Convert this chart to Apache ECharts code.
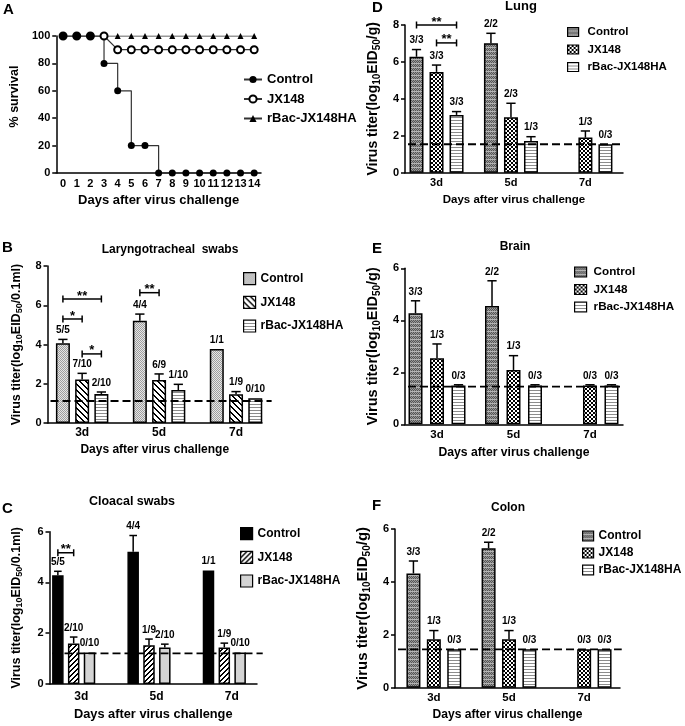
<!DOCTYPE html>
<html>
<head>
<meta charset="utf-8">
<script src="https://cdn.jsdelivr.net/npm/echarts@6/dist/echarts.min.js"></script>
<style>
  body { margin: 0; background: #fff; }
  .panel { position: absolute; }
</style>
</head>
<body>
<div id="pA" class="panel" style="left:0;top:0;width:365px;height:230px"></div>
<div id="pB" class="panel" style="left:0;top:230px;width:345px;height:250px"></div>
<div id="pC" class="panel" style="left:0;top:480px;width:345px;height:246px"></div>
<div id="pD" class="panel" style="left:345px;top:0;width:340px;height:240px"></div>
<div id="pE" class="panel" style="left:345px;top:240px;width:340px;height:240px"></div>
<div id="pF" class="panel" style="left:345px;top:480px;width:340px;height:246px"></div>
<script>
var FONT = '"Liberation Sans", Arial, Helvetica, sans-serif';
var NAMES = ['Control', 'JX148', 'rBac-JX148HA'];

// A - survival
var survDays = ['0', '1', '2', '3', '4', '5', '6', '7', '8', '9', '10', '11', '12', '13', '14'];
var survControl = [100, 100, 100, 80, 60, 20, 20, 0, 0, 0, 0, 0, 0, 0, 0];
var survJX148 = [100, 100, 100, 100, 90, 90, 90, 90, 90, 90, 90, 90, 90, 90, 90];
var survRBac = [100, 100, 100, 100, 100, 100, 100, 100, 100, 100, 100, 100, 100, 100, 100];

// virus titer panels, days 3 / 5 / 7
var titerDays = [3, 5, 7];

// B - laryngotracheal swabs
var ltCtrl = [4.06, 5.21, 3.77], ltCtrlErr = [0.20, 0.34, 0], ltCtrlN = ['5/5', '4/4', '1/1'];
var ltJX = [2.22, 2.19, 1.46], ltJXErr = [0.31, 0.31, 0.14], ltJXN = ['7/10', '6/9', '1/9'];
var ltRBac = [1.48, 1.68, 1.26], ltRBacErr = [0.10, 0.29, 0], ltRBacN = ['2/10', '1/10', '0/10'];
var ltLimit = 1.12;
// [day index, from group, to group, y, text]
var ltSig = [[0, 0, 2, 6.32, '**'], [0, 0, 1, 5.3, '*'], [0, 1, 2, 3.52, '*'], [1, 0, 1, 6.64, '**']];

// C - cloacal swabs
var clCtrl = [4.28, 5.21, 4.47], clCtrlErr = [0.16, 0.64, 0], clCtrlN = ['5/5', '4/4', '1/1'];
var clJX = [1.60, 1.53, 1.44], clJXErr = [0.25, 0.24, 0.17], clJXN = ['2/10', '1/9', '1/9'];
var clRBac = [1.24, 1.44, 1.24], clRBacErr = [0, 0.13, 0], clRBacN = ['0/10', '2/10', '0/10'];
var clLimit = 1.21;
var clSig = [[0, 0, 1, 5.17, '**']];

// D - lung
var luCtrl = [6.28, 7.01, null], luCtrlErr = [0.39, 0.54, 0], luCtrlN = ['3/3', '2/2', ''];
var luJX = [5.46, 3.0, 1.90], luJXErr = [0.37, 0.76, 0.36], luJXN = ['3/3', '2/3', '1/3'];
var luRBac = [3.13, 1.72, 1.54], luRBacErr = [0.18, 0.23, 0], luRBacN = ['3/3', '1/3', '0/3'];
var luLimit = 1.54;
var luSig = [[0, 0, 2, 8.0, '**'], [0, 1, 2, 7.03, '**']];

// E - brain
var brCtrl = [4.27, 4.55, null], brCtrlErr = [0.48, 0.97, 0], brCtrlN = ['3/3', '2/2', ''];
var brJX = [2.54, 2.09, 1.49], brJXErr = [0.55, 0.55, 0.03], brJXN = ['1/3', '1/3', '0/3'];
var brRBac = [1.49, 1.49, 1.49], brRBacErr = [0.03, 0.03, 0.03], brRBacN = ['0/3', '0/3', '0/3'];
var brLimit = 1.45;

// F - colon
var coCtrl = [4.32, 5.27, null], coCtrlErr = [0.47, 0.23, 0], coCtrlN = ['3/3', '2/2', ''];
var coJX = [1.83, 1.83, 1.45], coJXErr = [0.33, 0.33, 0], coJXN = ['1/3', '1/3', '0/3'];
var coRBac = [1.45, 1.45, 1.45], coRBacErr = [0, 0, 0], coRBacN = ['0/3', '0/3', '0/3'];
var coLimit = 1.45;

// fill patterns
function tile(w, h, fn) {
    var c = document.createElement('canvas');
    c.width = w; c.height = h;
    var ctx = c.getContext('2d');
    for (var y = 0; y < h; y++) {
        for (var x = 0; x < w; x++) {
            ctx.fillStyle = fn(x, y);
            ctx.fillRect(x, y, 1, 1);
        }
    }
    return { image: c, repeat: 'repeat' };
}
var fillDots = tile(2, 2, function (x, y) { return (x + y) % 2 ? '#e6e6e6' : '#9e9e9e'; });
var fillBack = tile(6, 6, function (x, y) { return ((x - y + 12) % 6) < 2 ? '#000' : '#fff'; });
var fillFwd = tile(5, 5, function (x, y) { return ((x + y) % 5) < 2 ? '#000' : '#fff'; });
var fillLines = tile(1, 3, function (x, y) { return y === 0 ? '#8c8c8c' : '#fff'; });
var fillCheck = tile(4, 4, function (x, y) { return ((x >> 1) + (y >> 1)) % 2 ? '#fff' : '#000'; });
var fillGray = tile(2, 4, function (x, y) { return y === 3 ? '#b4b4b4' : ((x + y) % 2 ? '#999' : '#555'); });

function txt(text, x, y, size, align) {
    return {
        type: 'text', x: x, y: y, silent: true,
        style: {
            text: text, font: 'bold ' + size + 'px ' + FONT, fill: '#000',
            textAlign: align || 'left', align: align || 'left',
            textVerticalAlign: 'middle', verticalAlign: 'middle'
        }
    };
}

function boldStyle(size, extra) {
    var s = { fontFamily: FONT, fontWeight: 'bold', fontSize: size, color: '#000' };
    for (var k in extra) s[k] = extra[k];
    return s;
}

function axisLineStyle() {
    return { show: true, onZero: false, lineStyle: { color: '#000', width: 1.5 } };
}

function titerName(unit, size) {
    return {
        text: 'Virus titer(log{s|10}EID{s|50}/' + unit + ')',
        style: boldStyle(size, {
            lineHeight: size + 4,
            rich: {
                s: boldStyle(Math.round(size * 0.68), { lineHeight: Math.round(size * 0.68), verticalAlign: 'bottom' })
            }
        })
    };
}

// ---------- panel A ----------
var chartA = echarts.init(document.getElementById('pA'));
chartA.setOption({
    animation: false,
    graphic: [txt('A', 3, 9.5, 15)],
    grid: { left: 39, top: 36, width: 222, height: 137 },
    legend: {
        data: NAMES, orient: 'vertical', left: 243, top: 73, padding: 0,
        itemWidth: 18, itemHeight: 9, itemGap: 6.5, selectedMode: false,
        textStyle: boldStyle(13)
    },
    xAxis: {
        type: 'category', data: survDays, boundaryGap: true,
        axisLine: axisLineStyle(), axisTick: { show: false },
        axisLabel: boldStyle(11, { interval: 0, margin: 5 }),
        name: 'Days after virus challenge', nameLocation: 'middle', nameGap: 21,
        nameTextStyle: boldStyle(13)
    },
    yAxis: {
        type: 'value', min: 0, max: 100, interval: 20,
        axisLine: axisLineStyle(),
        axisTick: { show: true, length: 4, lineStyle: { color: '#000', width: 1.5 } },
        axisLabel: boldStyle(11, { margin: 6 }),
        splitLine: { show: false },
        name: '% survival', nameLocation: 'middle', nameGap: 24,
        nameTextStyle: boldStyle(12.5, { padding: [0, 0, 0, 16] })
    },
    series: [
        {
            type: 'line', name: 'rBac-JX148HA', data: survRBac, showAllSymbol: true,
            symbol: 'triangle', symbolSize: 6,
            itemStyle: { color: '#000' }, lineStyle: { color: '#333', width: 1.2 }
        },
        {
            type: 'line', name: 'JX148', data: survJX148, showAllSymbol: true,
            symbol: 'emptyCircle', symbolSize: 7,
            itemStyle: { color: '#000', borderWidth: 1 }, lineStyle: { color: '#333', width: 1.2 }
        },
        {
            type: 'line', name: 'Control', data: survControl, step: 'end', showAllSymbol: true,
            symbol: 'circle', symbolSize: 7,
            itemStyle: { color: '#000' }, lineStyle: { color: '#333', width: 1.2 }
        }
    ]
});

// ---------- bar panels ----------
function titerChart(id, cfg) {
    var chart = echarts.init(document.getElementById(id));
    function pos(i, k) { return titerDays[i] + cfg.shift + (k - 1) * cfg.offset; }
    var series = [];
    var pts = [];
    cfg.groups.forEach(function (g, k) {
        var data = [];
        g.mean.forEach(function (v, i) {
            if (v === null) return;
            data.push([pos(i, k), v]);
            pts.push({ x: pos(i, k), mean: v, hi: v + g.err[i], n: g.n[i] });
        });
        series.push({
            type: 'bar', name: NAMES[k], data: data, barWidth: cfg.barWidth, barGap: '-100%', silent: true,
            itemStyle: { color: cfg.fills[k], borderColor: '#000', borderWidth: 1.5 }
        });
    });
    // detection limit
    series.push({
        type: 'custom', silent: true, z: 4, data: [[cfg.xMin, cfg.limit]],
        renderItem: function (params, api) {
            var a = api.coord([cfg.xMin, api.value(1)]);
            var b = api.coord([cfg.dashEnd, api.value(1)]);
            return {
                type: 'line', shape: { x1: a[0] + 3, y1: a[1], x2: b[0], y2: b[1] },
                style: { stroke: '#000', lineWidth: 1.8, lineDash: [8, 4] }
            };
        }
    });
    // error bars + n/N labels
    series.push({
        type: 'custom', silent: true, z: 5,
        data: pts.map(function (p) { return [p.x, p.mean, p.hi]; }),
        renderItem: function (params, api) {
            var base = api.coord([api.value(0), api.value(1)]);
            var hi = api.coord([api.value(0), api.value(2)]);
            var cap = cfg.barWidth * 0.33;
            var kids = [];
            if (base[1] - hi[1] > 0.6) {
                kids.push({ type: 'line', shape: { x1: base[0], y1: base[1], x2: hi[0], y2: hi[1] }, style: { stroke: '#000', lineWidth: 1.5 } });
                kids.push({ type: 'line', shape: { x1: hi[0] - cap, y1: hi[1], x2: hi[0] + cap, y2: hi[1] }, style: { stroke: '#000', lineWidth: 1.5 } });
            }
            kids.push({
                type: 'text',
                style: {
                    text: pts[params.dataIndex].n, x: hi[0], y: hi[1] - 4,
                    textAlign: 'center', align: 'center', textVerticalAlign: 'bottom', verticalAlign: 'bottom',
                    font: 'bold 10px ' + FONT, fill: '#000'
                }
            });
            return { type: 'group', children: kids };
        }
    });
    // significance brackets
    if (cfg.sig) {
        series.push({
            type: 'custom', silent: true, z: 5,
            data: cfg.sig.map(function (s) { return [pos(s[0], s[1]), pos(s[0], s[2]), s[3]]; }),
            renderItem: function (params, api) {
                var p1 = api.coord([api.value(0), api.value(2)]);
                var p2 = api.coord([api.value(1), api.value(2)]);
                var st = { stroke: '#000', lineWidth: 1.5 };
                return {
                    type: 'group', children: [
                        { type: 'line', shape: { x1: p1[0], y1: p1[1], x2: p2[0], y2: p2[1] }, style: st },
                        { type: 'line', shape: { x1: p1[0], y1: p1[1] - 3.5, x2: p1[0], y2: p1[1] + 3.5 }, style: st },
                        { type: 'line', shape: { x1: p2[0], y1: p2[1] - 3.5, x2: p2[0], y2: p2[1] + 3.5 }, style: st },
                        {
                            type: 'text',
                            style: {
                                text: cfg.sig[params.dataIndex][4], x: (p1[0] + p2[0]) / 2, y: p1[1] - 3,
                                textAlign: 'center', align: 'center', textVerticalAlign: 'middle', verticalAlign: 'middle',
                                font: 'bold 13px ' + FONT, fill: '#000'
                            }
                        }
                    ]
                };
            }
        });
    }
    var yn = titerName(cfg.unit, cfg.yNameSize);
    chart.setOption({
        animation: false,
        graphic: [txt(cfg.letter, cfg.letterPos[0], cfg.letterPos[1], 15), txt(cfg.title, cfg.titlePos[0], cfg.titlePos[1], cfg.titleSize, 'center')],
        grid: cfg.grid,
        legend: {
            data: NAMES, orient: 'vertical', left: cfg.legend[0], top: cfg.legend[1], padding: 0,
            icon: 'rect', itemWidth: cfg.legend[2], itemHeight: cfg.legend[3], itemGap: cfg.legend[4],
            selectedMode: false,
            itemStyle: { borderColor: '#000', borderWidth: 1.2 },
            textStyle: boldStyle(cfg.legend[5], { padding: [0, 0, 0, cfg.legend[6]] })
        },
        xAxis: {
            type: 'value', min: cfg.xMin, max: cfg.xMax,
            axisLine: axisLineStyle(), axisTick: { show: false }, splitLine: { show: false },
            axisLabel: boldStyle(cfg.xLabelSize, {
                customValues: titerDays, margin: cfg.xLabelMargin,
                formatter: function (v) { return v + 'd'; }
            }),
            name: 'Days after virus challenge', nameLocation: 'middle', nameGap: cfg.xNameGap,
            nameTextStyle: boldStyle(cfg.xNameSize)
        },
        yAxis: {
            type: 'value', min: 0, max: cfg.yMax, interval: 2,
            axisLine: axisLineStyle(),
            axisTick: { show: true, length: 4, lineStyle: { color: '#000', width: 1.5 } },
            axisLabel: boldStyle(11, { margin: 6 }),
            splitLine: { show: false },
            name: yn.text, nameLocation: 'middle', nameGap: cfg.yNameGap,
            nameTextStyle: yn.style
        },
        series: series
    });
    return chart;
}

function grp(mean, err, n) { return { mean: mean, err: err, n: n }; }

titerChart('pB', {
    letter: 'B', letterPos: [2, 17.5], title: 'Laryngotracheal  swabs', titlePos: [170, 20], titleSize: 12,
    grid: { left: 39, top: 36, width: 223, height: 157 },
    xMin: 2.1, xMax: 7.675, dashEnd: 7.925, shift: 0, offset: 0.5, barWidth: 14,
    yMax: 8, unit: '0.1ml', yNameSize: 12.5, yNameGap: 23,
    xLabelSize: 12, xLabelMargin: 4, xNameGap: 18, xNameSize: 12,
    legend: [243, 42, 12, 12, 10.5, 12, 0],
    fills: [fillDots, fillBack, fillLines], limit: ltLimit, sig: ltSig,
    groups: [grp(ltCtrl, ltCtrlErr, ltCtrlN), grp(ltJX, ltJXErr, ltJXN), grp(ltRBac, ltRBacErr, ltRBacN)]
});

titerChart('pC', {
    letter: 'C', letterPos: [2, 28.5], title: 'Cloacal swabs', titlePos: [132, 22], titleSize: 12.5,
    grid: { left: 41, top: 51.7, width: 216, height: 156.6 },
    xMin: 2.158, xMax: 7.668, dashEnd: 7.82, shift: -0.2, offset: 0.42, barWidth: 11.5,
    yMax: 6, unit: '0.1ml', yNameSize: 12.5, yNameGap: 25,
    xLabelSize: 12, xLabelMargin: 7, xNameGap: 24, xNameSize: 12.8,
    legend: [240, 47, 12, 12, 10.5, 12, 0],
    fills: ['#000', fillFwd, '#d4d4d4'], limit: clLimit, sig: clSig,
    groups: [grp(clCtrl, clCtrlErr, clCtrlN), grp(clJX, clJXErr, clJXN), grp(clRBac, clRBacErr, clRBacN)]
});

titerChart('pD', {
    letter: 'D', letterPos: [27, 7.5], title: 'Lung', titlePos: [176, 6.5], titleSize: 13,
    grid: { left: 60, top: 25, width: 218, height: 147.7 },
    xMin: 2.153, xMax: 8.01, dashEnd: 8.01, shift: 0, offset: 0.538, barWidth: 14,
    yMax: 8, unit: 'g', yNameSize: 14, yNameGap: 20,
    xLabelSize: 11, xLabelMargin: 5, xNameGap: 20, xNameSize: 11.5,
    legend: [222, 26, 11, 9, 5.5, 11.5, 4],
    fills: [fillGray, fillCheck, fillLines], limit: luLimit, sig: luSig,
    groups: [grp(luCtrl, luCtrlErr, luCtrlN), grp(luJX, luJXErr, luJXN), grp(luRBac, luRBacErr, luRBacN)]
});

titerChart('pE', {
    letter: 'E', letterPos: [27, 8.5], title: 'Brain', titlePos: [170, 7], titleSize: 12,
    grid: { left: 60, top: 28.3, width: 218, height: 156 },
    xMin: 2.163, xMax: 7.863, dashEnd: 7.863, shift: 0, offset: 0.562, barWidth: 14,
    yMax: 6, unit: 'g', yNameSize: 14.5, yNameGap: 21,
    xLabelSize: 11.5, xLabelMargin: 5, xNameGap: 20, xNameSize: 12.2,
    legend: [229, 26, 12, 10, 5.5, 11.7, 2],
    fills: [fillGray, fillCheck, fillLines], limit: brLimit,
    groups: [grp(brCtrl, brCtrlErr, brCtrlN), grp(brJX, brJXErr, brJXN), grp(brRBac, brRBacErr, brRBacN)]
});

titerChart('pF', {
    letter: 'F', letterPos: [27, 25.5], title: 'Colon', titlePos: [163, 28], titleSize: 12,
    grid: { left: 49, top: 49, width: 226, height: 158.7 },
    xMin: 1.967, xMax: 7.954, dashEnd: 8.0, shift: 0, offset: 0.543, barWidth: 14,
    yMax: 6, unit: 'g', yNameSize: 15, yNameGap: 14,
    xLabelSize: 11.5, xLabelMargin: 4, xNameGap: 21, xNameSize: 12.1,
    legend: [237, 50, 11, 10, 5, 12, 0],
    fills: [fillGray, fillCheck, fillLines], limit: coLimit,
    groups: [grp(coCtrl, coCtrlErr, coCtrlN), grp(coJX, coJXErr, coJXN), grp(coRBac, coRBacErr, coRBacN)]
});
</script>
</body>
</html>
